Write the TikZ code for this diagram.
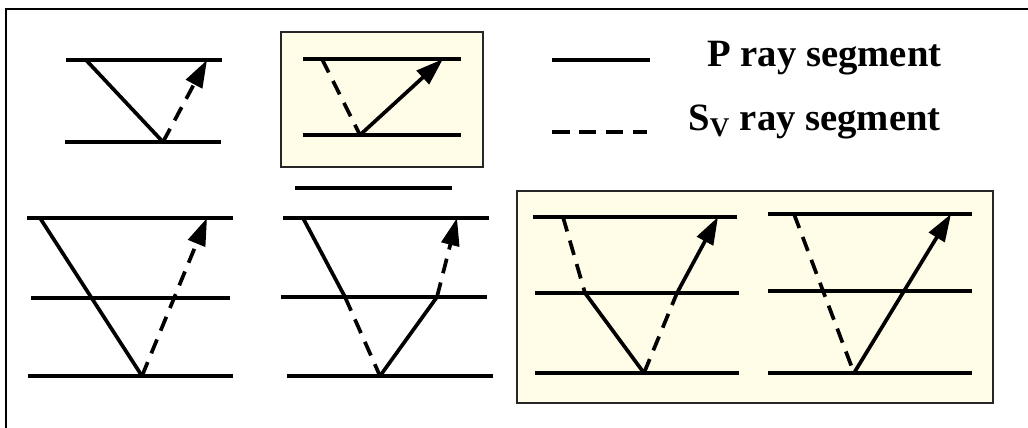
\documentclass[tikz,border=0pt]{standalone}
\usepackage{fontspec}
\setmainfont{Liberation Serif}
\usepackage{xcolor}
\usepackage{tikz}
\usetikzlibrary{arrows.meta}

\definecolor{panelyellow}{RGB}{255,252,232}

\begin{document}
\begin{tikzpicture}[x=0.02cm,y=-0.02cm,
      interface/.style={line width=2.3pt},
      pray/.style={line width=2.1pt},
      sray/.style={line width=2.1pt,dash pattern=on 0.3cm off 0.19cm},
      tip/.style={-{Triangle[length=0.55cm,width=0.36cm]}},
      panel/.style={draw=black!85,line width=1pt,fill=panelyellow},
      legend/.style={font=\fontsize{22}{26}\selectfont\bfseries,anchor=base west,inner sep=0pt}]
      \useasboundingbox (0,0) rectangle (1028,428);
      \draw[line width=1.1pt] (1028,9) -- (6,9) -- (6,428);
      % shaded panels
      \draw[panel] (281,32) rectangle (483,167);
      \draw[panel] (517,191) rectangle (993,403);
      % two layers
      \draw[interface] (66,60) -- (222,60);
      \draw[interface] (65,142) -- (221,142);
      \coordinate (b1) at (163,142);
      \draw[pray] (86,60) -- (b1);
      \draw[sray,tip] (b1) -- (207,60);
      \draw[interface] (303,59) -- (461,59);
      \draw[interface] (303,135) -- (461,135);
      \coordinate (b2) at (360,135);
      \draw[sray] (322,59) -- (b2);
      \draw[pray,tip] (b2) -- (443,59);
      % three layers
      \draw[interface] (295,188) -- (452,188);
      \draw[interface] (27,218) -- (233,218);
      \draw[interface] (31,298) -- (230,298);
      \draw[interface] (28,376) -- (233,376);
      \coordinate (b3) at (142,376);
      \draw[pray] (40,218) -- (b3);
      \draw[sray,tip] (b3) -- (207,218);
      \draw[interface] (283,218) -- (489,218);
      \draw[interface] (281,297) -- (487,297);
      \draw[interface] (287,376) -- (493,376);
      \coordinate (c4) at (345,297);
      \coordinate (b4) at (380,376);
      \coordinate (d4) at (437,297);
      \draw[pray] (303,218) -- (c4);
      \draw[sray] (c4) -- (b4);
      \draw[pray] (b4) -- (d4);
      \draw[sray,tip] (d4) -- (457,218);
      \draw[interface] (533,217) -- (737,217);
      \draw[interface] (535,293) -- (739,293);
      \draw[interface] (535,373) -- (739,373);
      \coordinate (c5) at (585,293);
      \coordinate (b5) at (644,373);
      \coordinate (d5) at (677,293);
      \draw[sray] (563,217) -- (c5);
      \draw[pray] (c5) -- (b5);
      \draw[sray] (b5) -- (d5);
      \draw[pray,tip] (d5) -- (718,217);
      \draw[interface] (768,214) -- (972,214);
      \draw[interface] (768,291) -- (972,291);
      \draw[interface] (768,373) -- (972,373);
      \coordinate (b6) at (854,373);
      \draw[sray] (794,214) -- (b6);
      \draw[pray,tip] (b6) -- (951,214);
      % legend
      \draw[interface] (552,60) -- (650,60);
      \draw[interface,dash pattern=on 0.35cm off 0.19cm] (552,132) -- (647,132);
      \node[legend] (plabel) at (707,67) {P ray segment};
      \node[legend] (svlabel) at (688,131) {S\textsubscript{V} ray segment};
\end{tikzpicture}
\end{document}
